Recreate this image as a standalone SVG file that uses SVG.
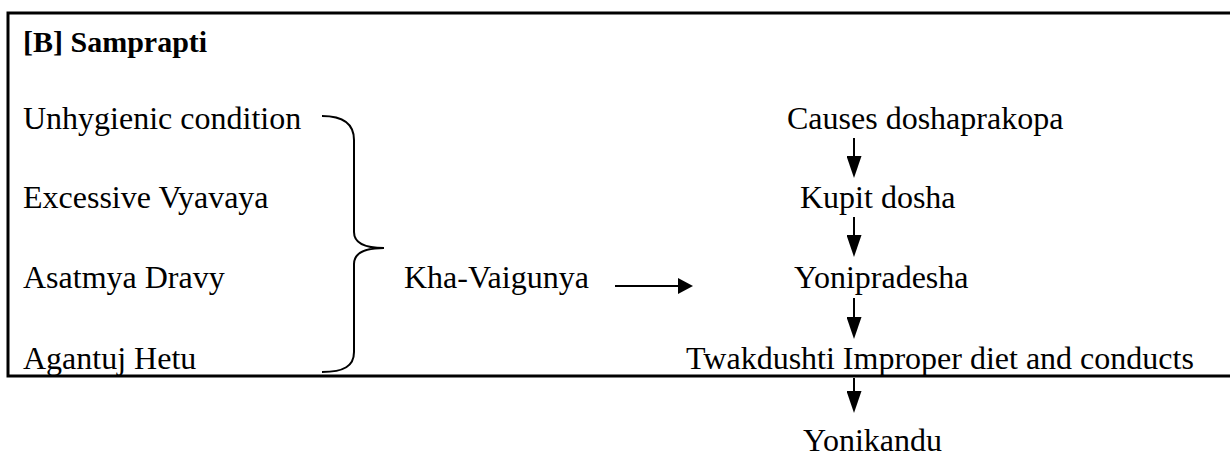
<svg xmlns="http://www.w3.org/2000/svg" width="1230" height="462" viewBox="0 0 1230 462">
<style>
text{font-family:"Liberation Serif","Times New Roman",serif;font-size:32px;fill:#000}
.b{font-weight:bold;font-size:30px}
.ln{stroke:#000;stroke-width:3;fill:none}
.ar{stroke:#000;stroke-width:2;fill:none}
</style>
<defs>
<marker id="ahv" markerWidth="22" markerHeight="15" refX="1" refY="7.5" orient="auto" markerUnits="userSpaceOnUse" viewBox="0 0 22 15">
<path d="M0,0 L22,7.5 L0,15 z" fill="#000"/>
</marker>
<marker id="ahh" markerWidth="15" markerHeight="16" refX="1" refY="8" orient="auto" markerUnits="userSpaceOnUse" viewBox="0 0 15 16">
<path d="M0,0 L15,8 L0,16 z" fill="#000"/>
</marker>
</defs>
<rect width="1230" height="462" fill="#fff"/>
<g id="frame">
<path class="ln" d="M1230,13 H8 V376 H1230"/>
</g>
<g id="title"><text class="b" x="23" y="52">[B] Samprapti</text></g>
<g id="n-unhygienic"><text x="23" y="129">Unhygienic condition</text></g>
<g id="n-excessive"><text x="23" y="208">Excessive Vyavaya</text></g>
<g id="n-asatmya"><text x="23" y="288">Asatmya Dravy</text></g>
<g id="n-agantuj"><text x="23" y="369">Agantuj Hetu</text></g>
<g id="n-kha"><text x="404" y="288">Kha-Vaigunya</text></g>
<g id="n-causes"><text x="787" y="129">Causes doshaprakopa</text></g>
<g id="n-kupit"><text x="800" y="208">Kupit dosha</text></g>
<g id="n-yonipradesha"><text x="794" y="288">Yonipradesha</text></g>
<g id="n-twak"><text x="686" y="369">Twakdushti Improper diet and conducts</text></g>
<g id="n-yonikandu"><text x="803" y="451">Yonikandu</text></g>
<g id="connectors">
<path class="ar" d="M322,116 C344,116 354,124 354,140 V232 C354,244 368,248 384,248 C368,248 354,252 354,264 V352 C354,366 344,372 322,372"/>
<line class="ar" x1="615" y1="286" x2="679" y2="286" marker-end="url(#ahh)"/>
<line class="ar" x1="854" y1="138" x2="854" y2="157" marker-end="url(#ahv)"/>
<line class="ar" x1="854" y1="217" x2="854" y2="236" marker-end="url(#ahv)"/>
<line class="ar" x1="854" y1="298" x2="854" y2="318" marker-end="url(#ahv)"/>
<line class="ar" x1="854" y1="378" x2="854" y2="392" marker-end="url(#ahv)"/>
</g>
</svg>
